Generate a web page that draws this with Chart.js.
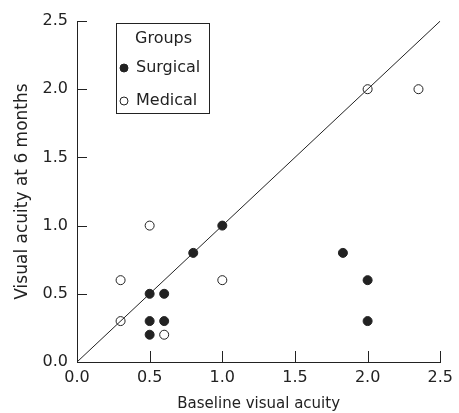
<!DOCTYPE html>
<html>
<head>
<meta charset="utf-8">
<script src="https://cdn.jsdelivr.net/npm/chart.js@4/dist/chart.umd.min.js"></script>
<style>
  html, body { margin: 0; padding: 0; background: #fff; }
  #wrap { width: 459px; height: 413px; }
</style>
</head>
<body>
<div id="wrap"><canvas id="acuity-plot" width="459" height="413"></canvas></div>
<script>
// values
const surgicalX = [0.5, 0.6, 0.5, 0.6, 0.5, 0.8, 1.0, 1.83, 2.0, 2.0];
const surgicalY = [0.5, 0.5, 0.3, 0.3, 0.2, 0.8, 1.0, 0.8, 0.6, 0.3];
const medicalX = [0.3, 0.3, 0.5, 0.6, 1.0, 2.0, 2.35];
const medicalY = [0.6, 0.3, 1.0, 0.2, 0.6, 2.0, 2.0];
const identityLine = [0, 2.5];
const tickValues = [0, 0.5, 1.0, 1.5, 2.0, 2.5];
const legendTitle = "Groups";

const ink = "#222222";
const fontFamily = "'DejaVu Sans', sans-serif";

function toPoints(xs, ys) {
    return xs.map((x, i) => ({ x: x, y: ys[i] }));
}

// inward tick marks plus the boxed legend in the upper left of the plot
const decorations = {
    id: "decorations",
    afterDraw(chart) {
        const ctx = chart.ctx;
        const area = chart.chartArea;
        const xs = chart.scales.x, ys = chart.scales.y;

        ctx.save();
        ctx.strokeStyle = ink;
        ctx.lineWidth = 1;
        tickValues.forEach(v => {
            const px = Math.round(xs.getPixelForValue(v)) + 0.5;
            ctx.beginPath();
            ctx.moveTo(px, area.bottom);
            ctx.lineTo(px, area.bottom - 11);
            ctx.stroke();
            const py = Math.round(ys.getPixelForValue(v)) + 0.5;
            ctx.beginPath();
            ctx.moveTo(area.left, py);
            ctx.lineTo(area.left + 10, py);
            ctx.stroke();
        });

        const left = area.left + 39, top = area.top + 2;
        const w = 93, h = 90;
        ctx.strokeRect(left + 0.5, top + 0.5, w, h);
        ctx.fillStyle = ink;
        ctx.font = "16px " + fontFamily;
        ctx.textBaseline = "middle";
        ctx.textAlign = "left";
        ctx.fillText(legendTitle, left + 19, top + 16);
        const rows = chart.data.datasets.filter(d => d.type !== "line");
        rows.forEach((ds, i) => {
            const cy = top + 45 + i * 33;
            ctx.beginPath();
            ctx.arc(left + 8, cy, 4, 0, Math.PI * 2);
            ctx.fillStyle = ds.backgroundColor;
            ctx.fill();
            ctx.strokeStyle = ink;
            ctx.stroke();
            ctx.fillStyle = ink;
            ctx.fillText(ds.label, left + 20, cy);
        });
        ctx.restore();
    }
};

new Chart("acuity-plot", {
    type: "scatter",
    data: {
        datasets: [
            {
                type: "line",
                label: "identity",
                data: toPoints(identityLine, identityLine),
                borderColor: ink,
                borderWidth: 1,
                pointRadius: 0,
                fill: false
            },
            {
                label: "Surgical",
                data: toPoints(surgicalX, surgicalY),
                backgroundColor: ink,
                borderColor: ink,
                borderWidth: 1,
                pointRadius: 4.5
            },
            {
                label: "Medical",
                data: toPoints(medicalX, medicalY),
                backgroundColor: "#ffffff",
                borderColor: ink,
                borderWidth: 1,
                pointRadius: 4.5
            }
        ]
    },
    options: {
        responsive: false,
        animation: false,
        layout: { padding: { top: 21, right: 17, left: 0, bottom: 0 } },
        plugins: {
            legend: { display: false },
            tooltip: { enabled: false }
        },
        scales: {
            x: {
                type: "linear",
                min: 0,
                max: 2.5,
                afterBuildTicks: s => { s.ticks = tickValues.map(v => ({ value: v })); },
                afterFit: s => { s.height = 51; },
                grid: { display: false, drawTicks: false },
                border: { display: true, color: ink, width: 1 },
                ticks: {
                    color: ink,
                    font: { family: fontFamily, size: 16 },
                    padding: 6,
                    maxRotation: 0,
                    callback: v => v.toFixed(1)
                },
                title: {
                    display: true,
                    text: "Baseline visual acuity",
                    color: ink,
                    font: { family: fontFamily, size: 15 },
                    padding: { top: 0, bottom: 0 }
                }
            },
            y: {
                type: "linear",
                min: 0,
                max: 2.5,
                afterBuildTicks: s => { s.ticks = tickValues.map(v => ({ value: v })); },
                afterFit: s => { s.width = 77; },
                grid: { display: false, drawTicks: false },
                border: { display: true, color: ink, width: 1 },
                ticks: {
                    color: ink,
                    font: { family: fontFamily, size: 16 },
                    padding: 9,
                    callback: v => v.toFixed(1)
                },
                title: {
                    display: true,
                    text: "Visual acuity at 6 months",
                    color: ink,
                    font: { family: fontFamily, size: 17 },
                    padding: { top: 12, bottom: 0 }
                }
            }
        }
    },
    plugins: [decorations]
});
</script>
</body>
</html>
